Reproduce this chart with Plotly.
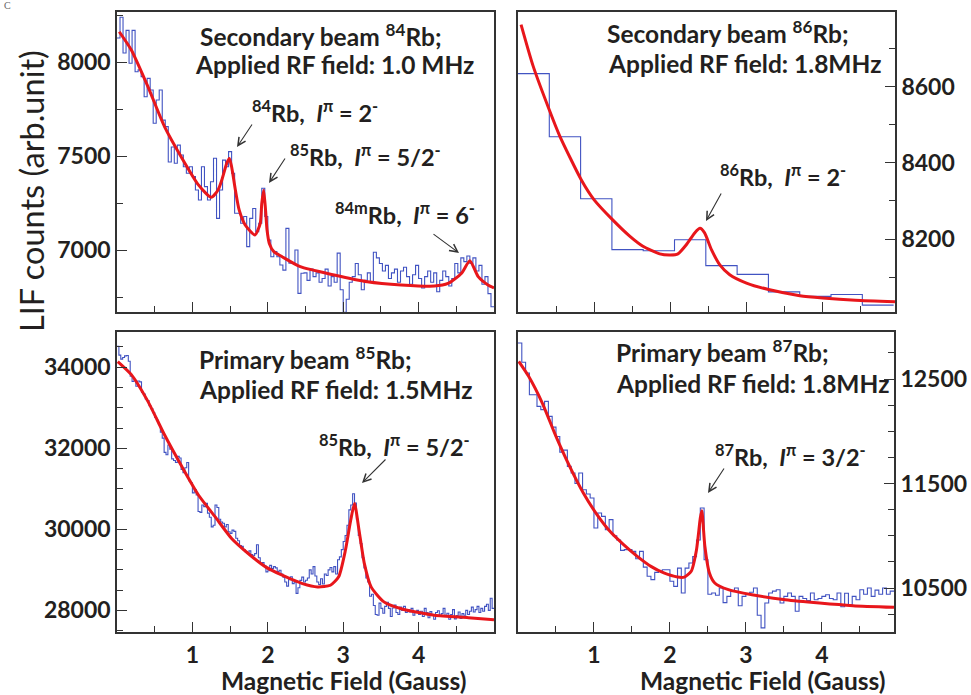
import plotly.graph_objects as go

W, H = 971, 695

# ---------------- data ----------------
# Panel 1: secondary beam 84Rb, RF 1.0 MHz  (histogram bins of 0.04 G starting at 0)
p1_bin_width = 0.04
p1_counts = [8130, 8240, 8050, 8170, 7995, 8170, 7950, 7960, 7924, 7817,
             7915, 7853, 7676, 7800, 7853, 7693, 7658, 7470, 7550, 7463,
             7560, 7507, 7445, 7410, 7445, 7392, 7321, 7268, 7445, 7339,
             7268, 7365, 7490, 7170, 7321, 7480, 7445, 7525, 7410, 7197,
             7197, 7144, 7180, 7020, 7170, 7223, 7099, 7144, 7330, 7180,
             7055, 6966, 6993, 6966, 6922, 6895, 7117, 6931, 6931, 7002,
             6771, 6878,
             6880, 6840, 6900, 6860, 6880, 6830, 6850, 6900, 6810, 6860,
             6830, 6985, 6790, 6670, 6740, 6830, 6860, 6930, 6870, 6790,
             6840, 6880, 6830, 6990, 6960, 6930, 6890, 6920, 6850, 6880,
             6900, 6830, 6890, 6910, 6860, 6820, 6870, 6920, 6850, 6800,
             6860, 6890, 6830, 6880, 6780, 6840, 6890, 6860, 6810, 6850,
             6930, 6880, 6960, 6940, 6970, 6930, 6960, 6890, 6920, 6820,
             6860, 6770, 6700]
p1_fit_x = [0.03, 0.19, 0.41, 0.63, 0.85, 1.08, 1.25, 1.34, 1.39, 1.455, 1.49,
            1.52, 1.57, 1.62, 1.70, 1.83, 1.90, 1.92, 1.945, 1.97, 1.99, 2.02,
            2.08, 2.19, 2.43, 2.88, 3.32, 3.77, 4.21, 4.39, 4.57, 4.68, 4.79,
            4.92, 5.0]
p1_fit_y = [8163, 8066, 7871, 7658, 7498, 7348, 7282, 7321, 7374, 7463, 7489,
            7445, 7321, 7215, 7135, 7082, 7144, 7250, 7320, 7215, 7108, 7037,
            6993, 6966, 6913, 6869, 6833, 6816, 6810, 6824, 6878, 6945, 6860,
            6816, 6800]

# Panel 2: secondary beam 86Rb, RF 1.8 MHz  (12 wide bins)
p2_bin_width = 0.411
p2_counts = [8635, 8469, 8306, 8172, 8169, 8198, 8130, 8107, 8061, 8049, 8054, 8026]
p2_fit_x = [0.04, 0.2, 0.41, 0.55, 0.83, 1.0, 1.24, 1.47, 1.64, 1.86, 2.0, 2.1,
            2.21, 2.32, 2.39, 2.45, 2.54, 2.65, 2.78, 3.0, 3.29, 3.7, 4.0, 4.43, 4.95]
p2_fit_y = [8764, 8654, 8540, 8470, 8356, 8303, 8251, 8207, 8181, 8161, 8158, 8161,
            8185, 8216, 8228, 8216, 8172, 8132, 8106, 8084, 8067, 8051, 8045, 8039, 8035]

# Panel 3: primary beam 85Rb, RF 1.5 MHz  (bins of 0.025 G)
p3_bin_width = 0.025
p3_counts = [34520, 34300, 34200, 34240, 34280, 34290, 34150, 33780, 33650, 33680,
             33530, 33660, 33640, 33380, 33340, 33220, 33180, 33050, 32980, 32880,
             32760, 32690, 32580, 32400, 32250, 31900, 31840, 32080, 31980, 31740,
             31700, 31650, 31800, 31760, 31480, 31400, 31520, 31650, 31200, 31150,
             30900, 30980, 30850, 30440, 30420, 30600, 30560, 30640, 30400, 30300,
             30060, 30100, 30600, 30540, 30250, 30180, 30150, 30060, 30120, 29940,
             29900, 29980, 29950, 29780, 29720, 29600, 29580, 29500, 29450, 29420,
             29470, 29380, 29350, 29400, 29620, 29300, 29160, 29180, 29100, 28950,
             28980, 29110, 29030, 29080, 29050, 28960, 28990, 28900, 28820, 28700,
             28600, 28760, 28830, 28660, 28700, 28420, 28560, 28740, 28820, 28700,
             28745, 28800, 29000, 28900, 29080, 28850, 28700, 28640, 28780, 28650,
             28900, 28860, 29000, 29060, 28950, 29080, 28900, 29250, 29320, 29500,
             29700, 29850, 30100, 30480, 30600, 30880, 30650, 30250, 29850, 29650,
             29300, 29050, 28800, 28700, 28350, 28400, 28120, 27900, 27880, 28180,
             28050, 27930, 28100, 28200, 28050, 27850, 28060, 28130, 27950, 27900,
             28080, 28000, 28100, 27950, 28020, 27960, 28050, 27880, 27950, 28000,
             27900, 27980, 27850, 28050, 27950, 27820, 27970, 27900, 27780, 27950,
             27990, 27860, 27920, 28050, 27850, 27930, 27780, 27900, 28020, 27790,
             27870, 27960, 27800, 27920, 27880, 28000, 27900, 27980, 28080, 27960,
             28020, 28100, 27950, 28050, 27980, 28100, 28150, 28000, 28300, 28050]
p3_fit_x = [0.01, 0.19, 0.41, 0.63, 0.86, 1.08, 1.30, 1.52, 1.74, 1.97, 2.19, 2.46,
            2.66, 2.83, 2.94, 3.03, 3.10, 3.15, 3.21, 3.28, 3.37, 3.54, 3.77, 4.21,
            4.66, 5.0]
p3_fit_y = [34140, 33818, 33158, 32333, 31550, 30848, 30312, 29776, 29404, 29074,
            28868, 28662, 28580, 28620, 28830, 29490, 30230, 30640, 29980, 29160,
            28580, 28210, 28040, 27880, 27820, 27770]

# Panel 4: primary beam 87Rb, RF 1.8 MHz  (bins of 0.05 G)
p4_bin_width = 0.05
p4_counts = [12845, 12660, 12557, 12350, 12350, 12238, 12207, 12286, 12143, 12040,
             11950, 11800, 11820, 11664, 11600, 11500, 11600, 11440, 11400, 11361,
             11074, 11218, 11186, 11058, 11154, 11000, 10960, 10860, 10867, 10867,
             10851, 10780, 10851, 10700, 10612, 10580, 10650, 10660, 10675, 10675,
             10564, 10516, 10690, 10452, 10690, 10739, 10800, 10960, 11266, 10771,
             10440, 10452, 10430, 10500, 10360, 10420, 10470, 10500, 10330, 10420,
             10440, 10460, 10500, 10240, 10118, 10356, 10452, 10470, 10484, 10356,
             10420, 10452, 10420, 10277, 10420, 10400, 10380, 10452, 10388, 10400,
             10420, 10436, 10400, 10388, 10452, 10320, 10450, 10340, 10420, 10388,
             10484, 10440, 10500, 10420, 10480, 10440, 10500, 10440, 10470]
p4_fit_x = [0.01, 0.14, 0.32, 0.5, 0.68, 0.86, 1.04, 1.21, 1.39, 1.57, 1.75, 1.92,
            2.10, 2.19, 2.28, 2.35, 2.40, 2.42, 2.46, 2.52, 2.59, 2.77, 3.08, 3.52,
            3.97, 4.41, 4.95]
p4_fit_y = [12669, 12526, 12270, 11951, 11664, 11409, 11202, 11042, 10915, 10803,
            10707, 10644, 10605, 10605, 10660, 10867, 11170, 11240, 10900, 10644,
            10548, 10484, 10436, 10388, 10356, 10331, 10315]

x_major = [1, 2, 3, 4]
x_minor = [0.5, 1.5, 2.5, 3.5, 4.5]
x_tick_text = ["1", "2", "3", "4"]

p1_yticks = [7000, 7500, 8000]
p1_yminor = [6750, 7250, 7750, 8250]
p2_yticks = [8200, 8400, 8600]
p2_yminor = [8100, 8300, 8500, 8700]
p3_yticks = [28000, 30000, 32000, 34000]
p3_yminor = [27500, 28500, 29000, 29500, 30500, 31000, 31500, 32500, 33000, 33500, 34500]
p4_yticks = [10500, 11500, 12500]
p4_yminor = [10250, 10750, 11000, 11250, 11750, 12000, 12250, 12750]

# ---------------- styling ----------------
FONT = "Lato"
TXT = "#231f20"
BLUE = "#4153c2"
RED = "#e8161b"


def step_xy(width, counts):
    edges = [round(i * width, 4) for i in range(len(counts) + 1)]
    return edges, list(counts) + [counts[-1]]


fig = go.Figure()
panels = [
    (p1_bin_width, p1_counts, p1_fit_x, p1_fit_y, "x", "y"),
    (p2_bin_width, p2_counts, p2_fit_x, p2_fit_y, "x2", "y2"),
    (p3_bin_width, p3_counts, p3_fit_x, p3_fit_y, "x3", "y3"),
    (p4_bin_width, p4_counts, p4_fit_x, p4_fit_y, "x4", "y4"),
]
for bw, cnt, fx, fy, xa, ya in panels:
    ex, ey = step_xy(bw, cnt)
    fig.add_trace(go.Scatter(x=ex, y=ey, mode="lines", line=dict(color=BLUE, width=1.1, shape="hv"),
                             xaxis=xa, yaxis=ya, showlegend=False, hoverinfo="skip"))
    fig.add_trace(go.Scatter(x=fx, y=fy, mode="lines", line=dict(color=RED, width=3, shape="spline", smoothing=0.6),
                             xaxis=xa, yaxis=ya, showlegend=False, hoverinfo="skip"))


def px(x):
    return x / W


def py(y):
    return 1 - y / H


tickfont = dict(family=FONT, size=23, color=TXT, weight="bold")


def xaxis(dom, rng, labels, anchor):
    return dict(domain=[px(dom[0]), px(dom[1])], range=rng, anchor=anchor, automargin=False,
                tickmode="array", tickvals=x_major, ticktext=x_tick_text,
                showticklabels=labels, ticks="inside", ticklen=10, tickwidth=1.3, tickcolor="#333",
                minor=dict(tickmode="array", tickvals=x_minor, ticks="inside", ticklen=6,
                           tickwidth=1.3, tickcolor="#333", showgrid=False),
                showline=True, linecolor="#333", linewidth=1.6, mirror=True,
                showgrid=False, zeroline=False, tickfont=tickfont, ticklabelstandoff=2)


def yaxis(dom, rng, tv, mv, side, anchor):
    return dict(domain=[py(dom[1]), py(dom[0])], range=rng, anchor=anchor, side=side, automargin=False,
                tickmode="array", tickvals=tv, ticktext=[str(v) for v in tv],
                ticks="inside", ticklen=10, tickwidth=1.3, tickcolor="#333",
                minor=dict(tickmode="array", tickvals=mv, ticks="inside", ticklen=6,
                           tickwidth=1.3, tickcolor="#333", showgrid=False),
                showline=True, linecolor="#333", linewidth=1.6, mirror=True,
                showgrid=False, zeroline=False, tickfont=tickfont, ticklabelstandoff=0)


fig.update_layout(
    width=W, height=H, autosize=False,
    margin=dict(l=0, r=0, t=0, b=0, autoexpand=False),
    paper_bgcolor="white", plot_bgcolor="white",
    xaxis=xaxis((117, 494), [0, 5.0], False, "y"),
    yaxis=yaxis((12, 312), [6672, 8268], p1_yticks, p1_yminor, "left", "x"),
    xaxis2=xaxis((518, 895), [0, 4.95], False, "y2"),
    yaxis2=yaxis((12, 312), [8008, 8797], p2_yticks, p2_yminor, "right", "x2"),
    xaxis3=xaxis((117, 494), [0, 5.0], True, "y3"),
    yaxis3=yaxis((332, 632), [27467, 34870], p3_yticks, p3_yminor, "left", "x3"),
    xaxis4=xaxis((518, 894), [0, 4.95], True, "y4"),
    yaxis4=yaxis((332, 632), [10079, 12950], p4_yticks, p4_yminor, "right", "x4"),
)

NB = "\u00a0"
annots = []


def label(text, x, y, size=24.5, anchor="left"):
    annots.append(dict(text="<b>" + text + "</b>", x=px(x), y=py(y), xref="paper", yref="paper",
                       xanchor=anchor, yanchor="middle", showarrow=False,
                       font=dict(family=FONT, size=size, color=TXT)))


def arrow(tail, head):
    annots.append(dict(text="", x=px(head[0]), y=py(head[1]), xref="paper", yref="paper",
                       ax=tail[0] - head[0], ay=tail[1] - head[1], axref="pixel", ayref="pixel",
                       showarrow=True, arrowhead=5, arrowsize=1.4, arrowwidth=1.1, arrowcolor="#333"))


def iso(mass, spin):
    return "<sup>%s</sup>Rb,%s%s<i>I</i><sup>π</sup> = %s<sup>-</sup>" % (mass, NB, NB, spin)


ISO = 23.5
# panel 1
label("Secondary beam <sup>84</sup>Rb;", 198, 35)
label("Applied RF field: 1.0 MHz", 193, 65)
label(iso("84", "2"), 250, 112, ISO)
label(iso("85", "5/2"), 288, 156, ISO)
label(iso("84m", "6"), 333, 213, ISO)
arrow((253, 123), (237, 147))
arrow((286, 157), (269, 183))
arrow((432, 233), (459, 253))
# panel 2
label("Secondary beam <sup>86</sup>Rb;", 605, 32)
label("Applied RF field: 1.8MHz", 606, 63)
label(iso("86", "2"), 718, 175, ISO)
arrow((722, 192), (706, 221))
# panel 3
label("Primary beam <sup>85</sup>Rb;", 197, 358)
label("Applied RF field: 1.5MHz", 197, 390)
label(iso("85", "5/2"), 317, 445, ISO)
arrow((387, 458), (362, 483))
# panel 4
label("Primary beam <sup>87</sup>Rb;", 614, 351)
label("Applied RF field: 1.8MHz", 614, 383)
label(iso("87", "3/2"), 713, 455, ISO)
arrow((725, 467), (708, 493))

# axis titles
label("Magnetic Field (Gauss)", 344, 680, 24.5, "center")
label("Magnetic Field (Gauss)", 763, 680, 24.5, "center")
annots.append(dict(text="LIF counts (arb.unit)", x=px(32), y=py(191), xref="paper", yref="paper",
                   textangle=-90, showarrow=False, xanchor="center", yanchor="middle",
                   font=dict(family=FONT, size=32.5, color=TXT)))
annots.append(dict(text="C", x=px(2), y=py(6), xref="paper", yref="paper", showarrow=False,
                   xanchor="left", yanchor="middle",
                   font=dict(family="Liberation Serif", size=10, color="#666")))

fig.update_layout(annotations=annots)
fig.write_html("out.html", config={"displayModeBar": False},
               post_script="document.body.style.margin='0';document.body.style.padding='0';")
